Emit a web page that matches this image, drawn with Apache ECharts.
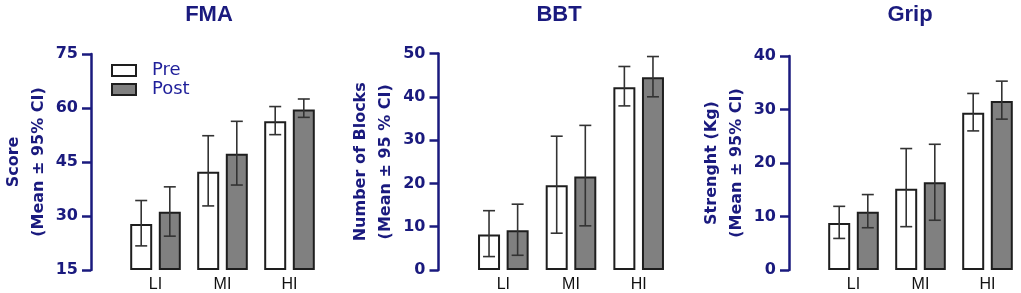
<!DOCTYPE html>
<html>
<head>
<meta charset="utf-8">
<script src="https://cdn.jsdelivr.net/npm/echarts@6/dist/echarts.min.js"></script>
<style>
html,body{margin:0;padding:0;background:#fff;}
#chart{width:1021px;height:293px;}
</style>
</head>
<body>
<div id="chart"></div>
<script>
// ---- data ----
var categories = ['LI', 'MI', 'HI'];

var fmaPre      = [27.8, 42.3, 56.3];
var fmaPreLow   = [21.7, 32.8, 52.6];
var fmaPreHigh  = [34.3, 52.3, 60.4];
var fmaPost     = [31.2, 47.3, 59.6];
var fmaPostLow  = [24.4, 38.6, 57.4];
var fmaPostHigh = [38.1, 56.3, 62.5];

var bbtPre      = [8.2, 19.6, 42.2];
var bbtPreLow   = [3.1, 8.5, 37.9];
var bbtPreHigh  = [13.7, 30.9, 47.0];
var bbtPost     = [9.2, 21.6, 44.5];
var bbtPostLow  = [3.4, 10.2, 40.0];
var bbtPostHigh = [15.2, 33.4, 49.3];

var gripPre      = [8.8, 15.2, 29.4];
var gripPreLow   = [5.9, 8.1, 26.0];
var gripPreHigh  = [11.9, 22.7, 33.0];
var gripPost     = [10.9, 16.4, 31.6];
var gripPostLow  = [7.9, 9.3, 28.2];
var gripPostHigh = [14.1, 23.5, 35.3];

var titles = ['FMA', 'BBT', 'Grip'];
var yNames = ['Score\n(Mean ± 95% CI)', 'Number of Blocks\n(Mean ± 95 % CI)', 'Strenght (Kg)\n(Mean ± 95% CI)'];
var yMin = [15, 0, 0];
var yMax = [75, 50, 40];
var yInterval = [15, 10, 10];

// ---- styling ----
var NAVY = '#1a1a7e';
var FONT = '"Liberation Sans", Arial, sans-serif';
var FONT_WIDE = '"DejaVu Sans", Verdana, sans-serif';
var BAR_W = 22, BAR_GAP = 0.3;
var OFFSET = (BAR_W * (1 + BAR_GAP)) / 2;

var grids = [
  {left: 120, top: 54, width: 203, height: 216},
  {left: 469.5, top: 53.5, width: 203, height: 216.5},
  {left: 820, top: 56, width: 206, height: 216.7}
];
var titleX = [209, 559, 910];

var panels = [
  {pre: fmaPre, preLow: fmaPreLow, preHigh: fmaPreHigh, post: fmaPost, postLow: fmaPostLow, postHigh: fmaPostHigh},
  {pre: bbtPre, preLow: bbtPreLow, preHigh: bbtPreHigh, post: bbtPost, postLow: bbtPostLow, postHigh: bbtPostHigh},
  {pre: gripPre, preLow: gripPreLow, preHigh: gripPreHigh, post: gripPost, postLow: gripPostLow, postHigh: gripPostHigh}
];

var preStyle = {color: '#ffffff', borderColor: '#1e1e1e', borderWidth: 2};
var postStyle = {color: '#808080', borderColor: '#1e1e1e', borderWidth: 2};

function errRender(side) {
  return function (params, api) {
    var c = api.value(0);
    var lo = api.coord([c, api.value(1)]);
    var hi = api.coord([c, api.value(2)]);
    var x = lo[0] + side * OFFSET;
    var cap = 6;
    var st = {stroke: '#333333', lineWidth: 1.6};
    return {
      type: 'group',
      children: [
        {type: 'line', shape: {x1: x, y1: lo[1], x2: x, y2: hi[1]}, style: st},
        {type: 'line', shape: {x1: x - cap, y1: hi[1], x2: x + cap, y2: hi[1]}, style: st},
        {type: 'line', shape: {x1: x - cap, y1: lo[1], x2: x + cap, y2: lo[1]}, style: st}
      ]
    };
  };
}

var option = {
  animation: false,
  backgroundColor: '#ffffff',
  textStyle: {fontFamily: FONT},
  title: titles.map(function (t, i) {
    return {
      text: t, left: titleX[i], top: 4, textAlign: 'center', padding: 0,
      textStyle: {fontSize: 22, fontWeight: 'bold', color: NAVY, fontFamily: FONT}
    };
  }),
  legend: {
    left: 111, top: 61.5, orient: 'vertical', itemWidth: 24, itemHeight: 11, itemGap: 1,
    padding: 0,
    textStyle: {fontSize: 18, color: '#1f1f9a', fontFamily: FONT_WIDE, padding: [0, 0, 0, 11]},
    data: [
      {name: 'Pre', icon: 'rect', itemStyle: preStyle},
      {name: 'Post', icon: 'rect', itemStyle: postStyle}
    ]
  },
  grid: grids,
  xAxis: grids.map(function (g, i) {
    return {
      type: 'category', gridIndex: i, data: categories,
      axisLine: {show: false}, axisTick: {show: false},
      axisLabel: {fontSize: 16, color: '#111111', margin: 7, fontFamily: FONT}
    };
  }),
  yAxis: grids.map(function (g, i) {
    return {
      type: 'value', gridIndex: i, min: yMin[i], max: yMax[i], interval: yInterval[i],
      offset: 31,
      name: yNames[i], nameLocation: 'middle', nameGap: 40, nameRotate: 90,
      nameTextStyle: {fontSize: 16, fontWeight: 'bold', color: NAVY, lineHeight: 25, fontFamily: FONT_WIDE},
      axisLine: {show: true, lineStyle: {color: NAVY, width: 2.5}},
      axisTick: {show: true, length: 9, lineStyle: {color: NAVY, width: 2.5}},
      axisLabel: {fontSize: 16, fontWeight: 'bold', color: NAVY, margin: 13, fontFamily: FONT_WIDE},
      splitLine: {show: false}
    };
  }),
  series: []
};

panels.forEach(function (p, i) {
  var base = yMin[i];
  // invisible base so bars start at the axis minimum
  option.series.push({
    type: 'bar', name: 'base', xAxisIndex: i, yAxisIndex: i, stack: 'pre' + i,
    barWidth: BAR_W, barGap: (BAR_GAP * 100) + '%',
    data: categories.map(function () { return base; }),
    itemStyle: {color: 'rgba(0,0,0,0)'}, silent: true
  });
  option.series.push({
    type: 'bar', name: 'Pre', xAxisIndex: i, yAxisIndex: i, stack: 'pre' + i,
    barWidth: BAR_W, barGap: (BAR_GAP * 100) + '%', clip: false,
    data: p.pre.map(function (v) { return v - base; }),
    itemStyle: preStyle
  });
  option.series.push({
    type: 'bar', name: 'base', xAxisIndex: i, yAxisIndex: i, stack: 'post' + i,
    barWidth: BAR_W, barGap: (BAR_GAP * 100) + '%',
    data: categories.map(function () { return base; }),
    itemStyle: {color: 'rgba(0,0,0,0)'}, silent: true
  });
  option.series.push({
    type: 'bar', name: 'Post', xAxisIndex: i, yAxisIndex: i, stack: 'post' + i,
    barWidth: BAR_W, barGap: (BAR_GAP * 100) + '%', clip: false,
    data: p.post.map(function (v) { return v - base; }),
    itemStyle: postStyle
  });
  option.series.push({
    type: 'custom', name: 'preErr', xAxisIndex: i, yAxisIndex: i, z: 5,
    renderItem: errRender(-1), encode: {x: 0, y: [1, 2]},
    data: categories.map(function (c, k) { return [k, p.preLow[k], p.preHigh[k]]; })
  });
  option.series.push({
    type: 'custom', name: 'postErr', xAxisIndex: i, yAxisIndex: i, z: 5,
    renderItem: errRender(1), encode: {x: 0, y: [1, 2]},
    data: categories.map(function (c, k) { return [k, p.postLow[k], p.postHigh[k]]; })
  });
});

var chart = echarts.init(document.getElementById('chart'), null, {renderer: 'canvas'});
chart.setOption(option);
</script>
</body>
</html>
